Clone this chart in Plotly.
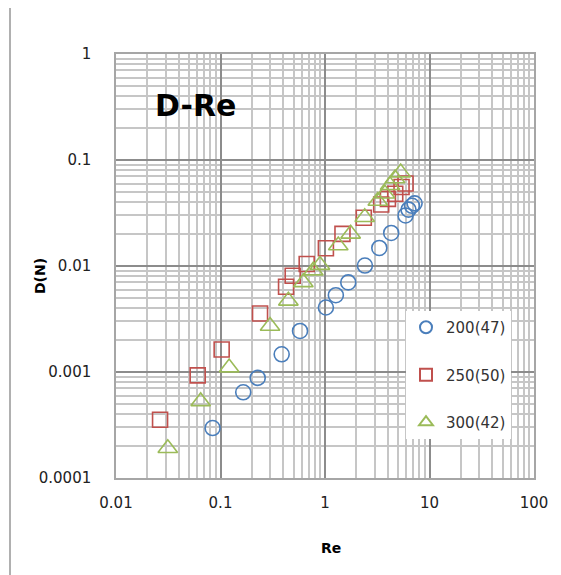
import plotly.graph_objects as go

# ---- data ----
re_200 = [0.084, 0.165, 0.227, 0.385, 0.577, 1.02, 1.27, 1.67, 2.41, 3.31, 4.3, 5.9, 6.3, 6.8, 7.2]
d_200 = [0.000296, 0.000644, 0.00088, 0.00147, 0.00244, 0.00406, 0.0053, 0.0070, 0.0101, 0.0148, 0.0205, 0.030, 0.034, 0.037, 0.039]

re_250 = [0.0264, 0.0605, 0.1026, 0.239, 0.424, 0.491, 0.668, 1.02, 1.47, 2.35, 3.45, 4.0, 4.7, 5.4, 5.9]
d_250 = [0.000355, 0.00093, 0.00163, 0.00356, 0.00637, 0.0081, 0.01045, 0.0147, 0.0201, 0.0285, 0.038, 0.043, 0.048, 0.0557, 0.060]

re_300 = [0.0313, 0.0646, 0.121, 0.298, 0.446, 0.621, 0.773, 0.895, 1.34, 1.76, 2.4, 3.2, 3.75, 4.19, 4.68, 5.3]
d_300 = [0.000191, 0.000528, 0.0011, 0.00272, 0.00469, 0.0070, 0.00904, 0.0102, 0.0156, 0.0201, 0.0288, 0.041, 0.048, 0.0577, 0.0668, 0.076]

series_names = ["200(47)", "250(50)", "300(42)"]
x_tickvals = [0.01, 0.1, 1, 10, 100]
x_ticktext = ["0.01", "0.1", "1", "10", "100"]
y_tickvals = [0.0001, 0.001, 0.01, 0.1, 1]
y_ticktext = ["0.0001", "0.001", "0.01", "0.1", "1"]

FONT = "DejaVu Sans"
OFF = 8  # page body margin
W, H = 561 - OFF, 575 - OFF
# plot area in page pixels
PL, PR, PT, PB = 116, 534, 54, 478
L, R, T, B = PL - OFF, PR - OFF, PT - OFF, PB - OFF


def px_x(p):  # page pixel -> paper x
    return (p - PL) / (PR - PL)


def px_y(p):  # page pixel -> paper y
    return (PB - p) / (PB - PT)


fig = go.Figure()
styles = [
    ("circle-open", "#4a7ebb", 15),
    ("square-open", "#c0504d", 15),
    ("triangle-up-open", "#9bbb59", 17),
]
for (xs, ys), name, (sym, col, sz) in zip(
    [(re_200, d_200), (re_250, d_250), (re_300, d_300)], series_names, styles
):
    fig.add_trace(go.Scatter(
        x=xs, y=ys, mode="markers", name=name, legendgroup=name,
        marker=dict(symbol=sym, color=col, size=sz, line=dict(color=col, width=1.6)),
    ))

axis_common = dict(
    type="log",
    showline=True, mirror=True, linecolor="#a6a6a6", linewidth=1.5,
    showgrid=True, gridcolor="#8c8c8c", gridwidth=1.5,
    zeroline=False,
    ticks="", tickmode="array",
    tickfont=dict(family=FONT, size=15, color="#222222"),
    minor=dict(tickmode="linear", dtick="D1", showgrid=True, gridcolor="#c6c6c6", gridwidth=1.5, ticks=""),
)

fig.update_xaxes(range=[-2, 2], tickvals=x_tickvals, ticktext=x_ticktext,
                 ticklabelstandoff=10, **axis_common)
fig.update_yaxes(range=[-4, 0], tickvals=y_tickvals, ticktext=y_ticktext,
                 ticklabelstandoff=20, **axis_common)

frame_col = "#b0b0b0"
shapes = [
    dict(type="line", xref="paper", yref="paper", x0=px_x(10), x1=px_x(10), y0=px_y(7), y1=px_y(575),
         line=dict(color=frame_col, width=2)),
    dict(type="line", xref="paper", yref="paper", x0=px_x(10), x1=px_x(561), y0=px_y(7), y1=px_y(7),
         line=dict(color=frame_col, width=2)),
]

annotations = [
    dict(text="<b>D-Re</b>", xref="paper", yref="paper", x=px_x(195), y=px_y(106),
         xanchor="center", yanchor="middle",
         showarrow=False, font=dict(family=FONT, size=30, color="black")),
    dict(text="<b>Re</b>", xref="paper", yref="paper", x=px_x(331), y=px_y(548),
         xanchor="center", yanchor="middle",
         showarrow=False, font=dict(family=FONT, size=14, color="black")),
    dict(text="<b>D(N)</b>", xref="paper", yref="paper", x=px_x(40), y=px_y(276),
         xanchor="center", yanchor="middle",
         showarrow=False, textangle=-90, font=dict(family=FONT, size=14, color="black")),
]

fig.update_layout(
    width=W, height=H,
    margin=dict(l=L, r=W - R, t=T, b=H - B),
    paper_bgcolor="white", plot_bgcolor="white",
    shapes=shapes, annotations=annotations,
    showlegend=True,
    legend=dict(
        x=px_x(406), y=px_y(311), xanchor="left", yanchor="top",
        bgcolor="white", borderwidth=0,
        font=dict(family=FONT, size=15, color="#333333"),
        tracegroupgap=25, itemwidth=30, itemsizing="constant",
    ),
)

fig.write_html("out.html")
